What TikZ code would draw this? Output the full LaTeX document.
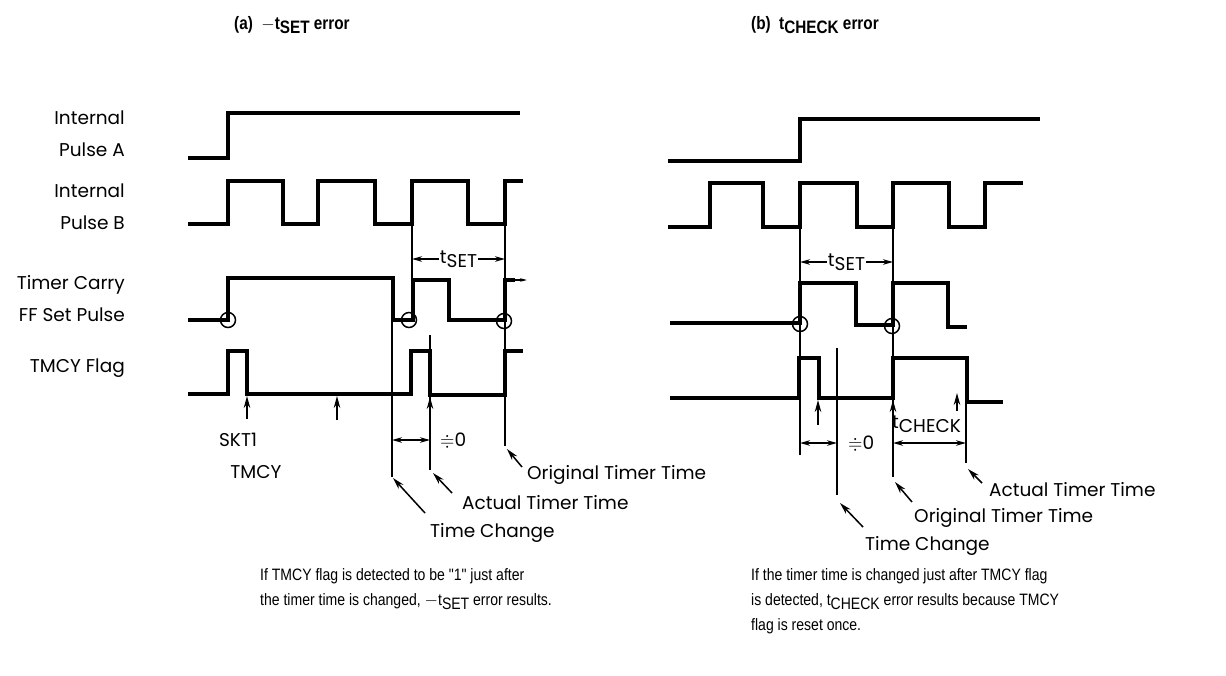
\documentclass[tikz,border=0pt]{standalone}
\usepackage{amssymb}
\usepackage{fontspec}
\usetikzlibrary{arrows.meta}
\newfontfamily\lblfont{Poppins}
\newfontfamily\narrowfont[FakeStretch=0.85]{Liberation Sans}
\tikzset{
  wave/.style={line width=3.2pt, line join=miter, line cap=butt},
  thin/.style={line width=1.5pt},
  arr/.style={line width=1.5pt, -{Stealth[length=12pt,width=6.5pt]}},
  dim/.style={line width=1.5pt, {Stealth[length=10pt,width=5.5pt]}-{Stealth[length=10pt,width=5.5pt]}},
  ring/.style={line width=1.5pt, draw, circle, minimum size=15pt, inner sep=0pt},
  lbl/.style={font=\lblfont\fontsize{18.5}{32}\selectfont, inner sep=0pt},
  sig/.style={lbl, anchor=east, align=right},
  note/.style={font=\narrowfont\fontsize{16.5}{25}\selectfont, inner sep=0pt, anchor=north west, align=left},
  ttl/.style={font=\narrowfont\bfseries\fontsize{18}{20}\selectfont, inner sep=0pt, anchor=west}
}
\newcommand{\tsub}[1]{t\raisebox{-4pt}{#1}}
\begin{document}
\begin{tikzpicture}[x=1pt,y=-1pt]
\useasboundingbox (0,0) rectangle (1226,675);
% titles
\node[ttl] (ta) at (234,25) {(a)\ \ $-$\tsub{SET} error};
\node[ttl] (tb) at (751,25) {(b)\ \ \tsub{CHECK} error};
% signal labels
\node[sig] (la) at (125,134) {Internal\\Pulse A};
\node[sig] (lb) at (125,207) {Internal\\Pulse B};
\node[sig] (lc) at (125,299) {Timer Carry\\FF Set Pulse};
\node[sig] (ld) at (125,368) {TMCY Flag};

% ===== (a) waveforms
\draw[wave] (188,158) -- (228,158) -- (228,113) -- (520,113);
\draw[wave] (188,224) -- (228,224) -- (228,181) -- (283,181) -- (283,224) -- (318,224) -- (318,181) -- (375,181) -- (375,224) -- (412,224) -- (412,181) -- (468,181) -- (468,224) -- (505,224) -- (505,181) -- (523,181);
\draw[wave] (188,320) -- (228,320) -- (228,278) -- (393,278) -- (393,320) -- (413,320) -- (413,280) -- (449,280) -- (449,320) -- (505,320) -- (505,280) -- (515,280);
\draw[thin,-{Stealth[length=7pt,width=3.5pt]}] (513,280) -- (527,280);
\draw[wave] (188,394) -- (228,394) -- (228,351) -- (247,351) -- (247,394) -- (411,394) -- (411,351) -- (430,351) -- (430,395) -- (505,395) -- (505,351) -- (523,351);
\node[ring] (ca1) at (228,320) {};
\node[ring] (ca2) at (409,320) {};
\node[ring] (ca3) at (504,321) {};
% thin guide lines
\draw[thin] (412,224) -- (412,280);
\draw[thin] (505,224) -- (505,446);
\draw[thin] (392,320) -- (392,477);
\draw[thin] (430,335) -- (430,470);
% tSET
\coordinate (sa1) at (412,259);
\coordinate (sa2) at (505,259);
\draw[dim] (sa1) -- (sa2) node[midway, fill=white, lbl, inner sep=1pt] {\tsub{SET}};
% ~0
\coordinate (za1) at (392,440);
\coordinate (za2) at (430,440);
\draw[dim] (za1) -- (za2);
\node[lbl, anchor=west] (zla) at (440,440) {$\doteqdot$0};
% up arrows
\draw[arr] (247,419) -- (247,396);
\draw[arr] (337,420) -- (337,396);
\draw[arr] (430,425) -- (430,397);
\node[lbl] (skt) at (238,440) {SKT1};
\node[lbl] (tmcy) at (256,472) {TMCY};
% pointers
\node[lbl, anchor=west] (tca) at (430,533) {Time Change};
\node[lbl, anchor=west] (ata) at (462,503) {Actual Timer Time};
\node[lbl, anchor=west] (ota) at (527,475) {Original Timer Time};
\coordinate (tcae) at (393,478);
\coordinate (atae) at (433,473);
\coordinate (otae) at (507,449);
\draw[arr] (425,513) -- (tcae);
\draw[arr] (452,493) -- (atae);
\draw[arr] (522,467) -- (otae);

% ===== (b) waveforms
\draw[wave] (668,161) -- (800,161) -- (800,119) -- (1040,119);
\draw[wave] (668,227) -- (710,227) -- (710,183) -- (763,183) -- (763,227) -- (800,227) -- (800,183) -- (857,183) -- (857,227) -- (893,227) -- (893,183) -- (949,183) -- (949,227) -- (985,227) -- (985,183) -- (1023,183);
\draw[wave] (670,323) -- (800,323) -- (800,283) -- (856,283) -- (856,325) -- (893,325) -- (893,283) -- (948,283) -- (948,327) -- (967,327);
\draw[wave] (670,398) -- (799,398) -- (799,358) -- (819,358) -- (819,398) -- (893,398) -- (893,358) -- (967,358) -- (967,402) -- (1003,402);
\node[ring] (cb1) at (800,324) {};
\node[ring] (cb2) at (892,326) {};
% thin lines
\draw[thin] (800,227) -- (800,455);
\draw[thin] (893,227) -- (893,477);
\draw[thin] (837,348) -- (837,495);
\draw[thin] (966,402) -- (966,463);
% tSET
\coordinate (sb1) at (800,262);
\coordinate (sb2) at (893,262);
\draw[dim] (sb1) -- (sb2) node[midway, fill=white, lbl, inner sep=1pt] {\tsub{SET}};
% ~0 and tCHECK
\coordinate (zb1) at (800,443);
\coordinate (zb2) at (837,443);
\draw[dim] (zb1) -- (zb2);
\node[lbl, anchor=west] (zlb) at (848,443) {$\doteqdot$0};
\coordinate (kb1) at (893,443);
\coordinate (kb2) at (966,443);
\draw[dim] (kb1) -- (kb2);
\node[lbl, anchor=west] (tck) at (892,424) {\tsub{CHECK}};
% up arrows
\draw[arr] (818,425) -- (818,400);
\draw[arr] (893,420) -- (893,400);
\draw[arr] (957,411) -- (957,393);
% pointers
\node[lbl, anchor=west] (tcb) at (865,546) {Time Change};
\node[lbl, anchor=west] (otb) at (914,518) {Original Timer Time};
\node[lbl, anchor=west] (atb) at (989,490) {Actual Timer Time};
\coordinate (tcbe) at (840,503);
\coordinate (otbe) at (895,482);
\coordinate (atbe) at (968,469);
\draw[arr] (863,527) -- (tcbe);
\draw[arr] (912,502) -- (otbe);
\draw[arr] (982,483) -- (atbe);

% notes
\node[note] (na) at (260,568) {If TMCY flag is detected to be "1" just after\\the timer time is changed, $-$\tsub{SET} error results.};
\node[note] (nb) at (751,568) {If the timer time is changed just after TMCY flag\\is detected, \tsub{CHECK} error results because TMCY\\flag is reset once.};
\end{tikzpicture}
\end{document}
